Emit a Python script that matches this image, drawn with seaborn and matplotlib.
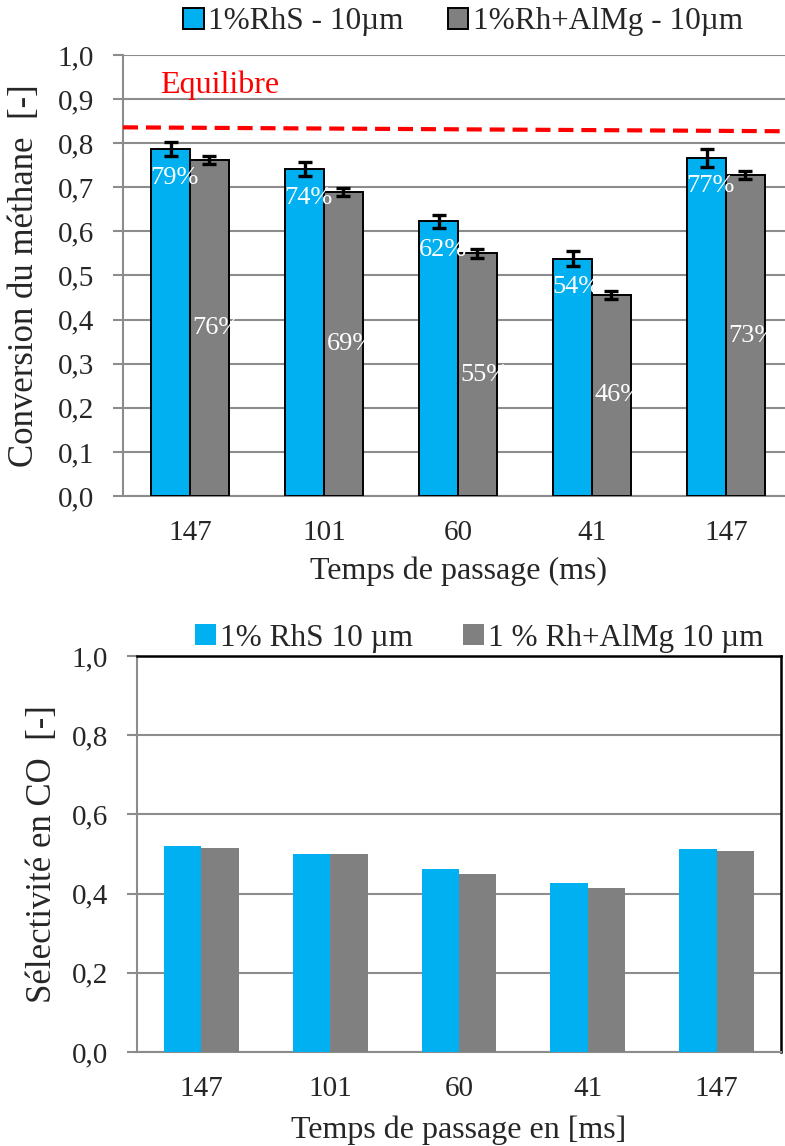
import numpy as np
import pandas as pd
import matplotlib
matplotlib.use("Agg")
import matplotlib.pyplot as plt
import seaborn as sns

# Data
temps = ["147", "101", "60", "41", "147"]
series_top = ["1%RhS - 10µm", "1%Rh+AlMg - 10µm"]
conv_rhs = [0.787, 0.741, 0.623, 0.538, 0.767]
conv_almg = [0.761, 0.689, 0.550, 0.456, 0.727]
err_rhs = [0.016, 0.016, 0.015, 0.017, 0.020]
err_almg = [0.009, 0.009, 0.010, 0.009, 0.009]
pct_rhs = ["79%", "74%", "62%", "54%", "77%"]
pct_almg = ["76%", "69%", "55%", "46%", "73%"]
equilibre = [0.836, 0.827]

series_bot = ["1% RhS 10 µm", "1 % Rh+AlMg 10 µm"]
sel_rhs = [0.520, 0.499, 0.462, 0.426, 0.512]
sel_almg = [0.515, 0.499, 0.449, 0.414, 0.507]

BLUE = "#00b0f0"
GRAY = "#808080"
GRID = "#8c8c8c"

TICK_FS = 21
XLAB_FS = 23
YLAB_FS = 25
LEG_FS = 22.5
PCT_FS = 19

sns.set_theme(style="white")
plt.rcParams["font.family"] = ["Liberation Serif", "DejaVu Serif"]

fig = plt.figure(figsize=(7.85, 11.46), dpi=100)


def style_axes(ax, step, xlabel, ylabel, xpad, ypad):
    ticks = np.arange(0, 1.0001, step)
    ax.set_xlim(-0.5, 4.5)
    ax.set_ylim(0, 1.0)
    ax.set_yticks(ticks)
    ax.set_yticklabels([f"{v:.1f}".replace(".", ",") for v in ticks])
    ax.yaxis.grid(True, color=GRID, lw=1.5, zorder=0)
    ax.set_xticks(range(5))
    ax.set_xticklabels(temps)
    ax.set_xticks(np.arange(-0.5, 5.0, 1), minor=True)
    ax.tick_params(axis="x", which="major", length=0, labelsize=TICK_FS, pad=17)
    ax.tick_params(axis="x", which="minor", length=7, color=GRID, width=1.5)
    ax.tick_params(axis="y", length=7, color=GRID, width=1.5, labelsize=TICK_FS,
                   left=True, pad=14)
    ax.set_xlabel(xlabel, fontsize=XLAB_FS, labelpad=xpad)
    ax.set_ylabel(ylabel, fontsize=YLAB_FS, labelpad=ypad)
    for s in ["left", "bottom"]:
        ax.spines[s].set_color(GRID)
        ax.spines[s].set_linewidth(1.5)


# ---------- top chart: conversion ----------
df_top = pd.DataFrame({
    "pos": list(range(5)) * 2,
    "val": conv_rhs + conv_almg,
    "serie": [series_top[0]] * 5 + [series_top[1]] * 5,
})
ax1 = fig.add_axes([0.1567, 0.5672, 0.8535, 0.3848])
sns.barplot(data=df_top, x="pos", y="val", hue="serie", ax=ax1,
            palette={series_top[0]: BLUE, series_top[1]: GRAY},
            edgecolor="black", linewidth=1.4, width=0.58, errorbar=None,
            saturation=1, zorder=3)

for cont, err in zip(ax1.containers, [err_rhs, err_almg]):
    xs = [b.get_x() + b.get_width() / 2 for b in cont]
    ys = [b.get_height() for b in cont]
    ax1.errorbar(xs, ys, yerr=err, fmt="none", ecolor="black",
                 elinewidth=2.4, capsize=5, capthick=2.4, zorder=5)

# percentage labels, white, starting at the bar's left edge
for b, txt in zip(ax1.containers[0], pct_rhs):
    ax1.text(b.get_x() - 0.005, b.get_height() - 0.065, txt,
             color="white", ha="left", va="center", fontsize=PCT_FS, zorder=6)
for b, txt in zip(ax1.containers[1], pct_almg):
    ax1.text(b.get_x() + 0.02, b.get_height() / 2, txt,
             color="white", ha="left", va="center", fontsize=PCT_FS, zorder=6)

ax1.plot([-0.5, 4.5], equilibre, color="red", lw=3, dashes=(3.6, 1.9), zorder=4)
ax1.text(-0.22, 0.932, "Equilibre", color="red", fontsize=XLAB_FS,
         ha="left", va="center")

style_axes(ax1, 0.1, "Temps de passage (ms)", "Conversion du méthane  [-]", 8, 12)
for s in ["top", "right"]:
    ax1.spines[s].set_visible(False)

h, l = ax1.get_legend_handles_labels()
ax1.get_legend().remove()
fig.legend(h, l, loc="center", bbox_to_anchor=(0.590, 0.981), ncol=2, frameon=False,
           fontsize=LEG_FS, handlelength=0.65, handleheight=0.65, handletextpad=0.15,
           columnspacing=1.4)

# ---------- bottom chart: CO selectivity ----------
df_bot = pd.DataFrame({
    "pos": list(range(5)) * 2,
    "val": sel_rhs + sel_almg,
    "serie": [series_bot[0]] * 5 + [series_bot[1]] * 5,
})
ax2 = fig.add_axes([0.1745, 0.0820, 0.8204, 0.3456])
sns.barplot(data=df_bot, x="pos", y="val", hue="serie", ax=ax2,
            palette={series_bot[0]: BLUE, series_bot[1]: GRAY},
            linewidth=0, width=0.58, errorbar=None, saturation=1, zorder=3)

style_axes(ax2, 0.2, "Temps de passage en [ms]", "Sélectivité en CO  [-]", 10, 9)
for s in ["top", "right"]:
    ax2.spines[s].set_color("black")
    ax2.spines[s].set_linewidth(1.8)

h, l = ax2.get_legend_handles_labels()
ax2.get_legend().remove()
fig.legend(h, l, loc="center", bbox_to_anchor=(0.611, 0.443), ncol=2, frameon=False,
           fontsize=LEG_FS, handlelength=0.65, handleheight=0.65, handletextpad=0.15,
           columnspacing=1.6)

fig.savefig("out.png", dpi=100)
